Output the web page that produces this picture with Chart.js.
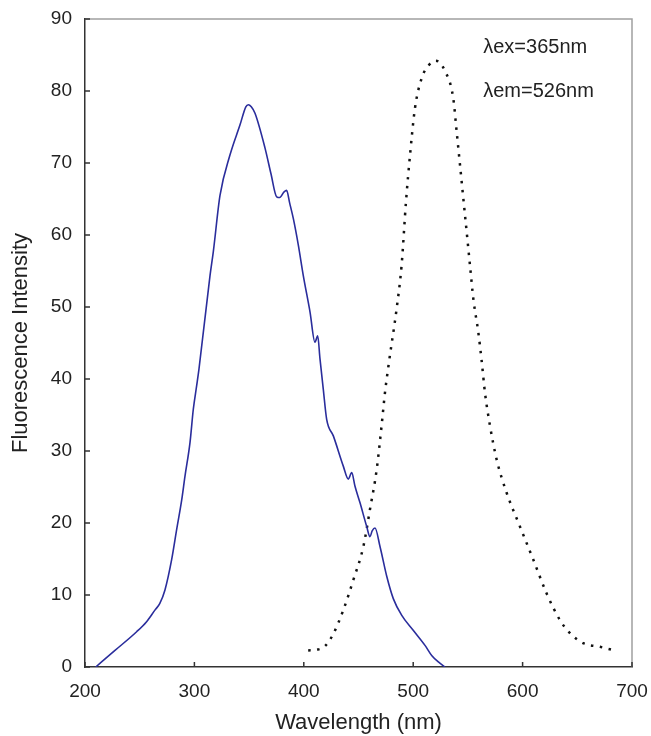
<!DOCTYPE html>
<html>
<head>
<meta charset="utf-8">
<script src="https://cdn.jsdelivr.net/npm/chart.js@4/dist/chart.umd.min.js"></script>
<style>
html,body{margin:0;padding:0;background:#fff;}
#wrap{width:651px;height:736px;position:relative;}
</style>
</head>
<body>
<div id="wrap"><canvas id="c" width="651" height="736"></canvas></div>
<script>
// Excitation spectrum (solid blue)
const exWavelength = [209.8,227.4,247.2,256.3,263.9,268.3,273.1,279.2,283.8,288.4,291.4,296,299,302.1,304.2,314.3,317.3,323.4,332.5,341.7,347,349.3,352,355.4,364.5,370,375.2,378,382,384.3,387,390.4,395,399.5,405.7,410.2,412.7,414.8,417.8,420.9,427,436.1,440.7,443.8,446.8,451.4,457.5,460.5,462.5,465.1,469.7,475.8,481.8,489.4,500,510.8,516.9,523,529];
const exIntensity  = [0,2.3,4.9,6.3,7.9,8.8,10.7,14.9,19.1,23.2,26.5,31.2,35.8,39.1,41.4,54.4,57.7,65.5,71.1,75.3,77.8,78.1,77.8,76.9,72.1,68.5,65.3,65.2,66.0,66.2,64.5,62.3,58.6,54.4,49.3,45.1,46.0,42.8,38.6,34.4,32.1,27.9,26.1,27.0,25.1,22.8,19.5,18.1,18.9,19.3,16.7,12.6,9.5,7.2,5.1,3.0,1.6,0.7,0];
// Emission spectrum (dotted black)
const emWavelength = [404,412,419.4,427,436.1,445.3,454.4,460.5,466.6,471.1,474.2,478.1,484.8,489.4,493.4,497.1,501.6,507.8,513.8,520.8,529,536.6,539.7,542.8,545.8,548.9,551.9,555,559.5,562.6,565.6,570.2,576.3,585.4,597.6,609.8,622,634.2,643.3,655.5,670.8,681.4];
const emIntensity  = [2.3,2.4,2.9,4.6,7.9,12.1,16.7,21.9,27.4,33.5,38.1,42.6,49.7,55.8,64.6,71.1,77.6,81.8,83.5,84.2,82.8,79,74.4,69.7,65.1,60.4,55.8,51.1,46.5,42.5,38.1,33.5,28.8,24.2,19.5,14.9,10.2,6.5,4.7,3.3,2.8,2.4];
// Axis ticks
const xTicks = [200,300,400,500,600,700];
const yTicks = [0,10,20,30,40,50,60,70,80,90];
// Annotations
const annotations = [
  {text:'\u03BBex=365nm', x:564, y:86.0},
  {text:'\u03BBem=526nm', x:564, y:80.0}
];

const FONT = "'Liberation Sans', Arial, Helvetica, sans-serif";

function zeroPad(s){ s.paddingTop = 0; s.paddingBottom = 0; s.paddingLeft = 0; s.paddingRight = 0; }

const frame = {
  id:'frame',
  afterDatasetsDraw(chart){
    const {ctx, chartArea:a, scales:{x, y}} = chart;
    ctx.save();
    ctx.strokeStyle = '#a0a0a0';
    ctx.lineWidth = 1.5;
    ctx.beginPath();
    ctx.moveTo(a.left, a.top); ctx.lineTo(a.right, a.top); ctx.lineTo(a.right, a.bottom);
    ctx.stroke();
    ctx.strokeStyle = '#333';
    ctx.lineWidth = 1.5;
    ctx.beginPath();
    x.ticks.forEach((t,i)=>{ const px = x.getPixelForTick(i); ctx.moveTo(px, a.bottom); ctx.lineTo(px, a.bottom-5); });
    y.ticks.forEach((t,i)=>{ const py = y.getPixelForTick(i); ctx.moveTo(a.left, py); ctx.lineTo(a.left+5, py); });
    ctx.stroke();
    ctx.fillStyle = '#222';
    ctx.font = '20px ' + FONT;
    ctx.textBaseline = 'middle';
    ctx.textAlign = 'left';
    annotations.forEach(an=>{ ctx.fillText(an.text, x.getPixelForValue(an.x), y.getPixelForValue(an.y)); });
    ctx.restore();
  }
};

new Chart(document.getElementById('c'), {
  type:'line',
  data:{
    datasets:[
      {label:'Excitation', data: exWavelength.map((v,i)=>({x:v, y:exIntensity[i]})),
       borderColor:'#2a2d9c', borderWidth:1.6, pointRadius:0, fill:false,
       cubicInterpolationMode:'monotone'},
      {label:'Emission', data: emWavelength.map((v,i)=>({x:v, y:emIntensity[i]})),
       borderColor:'#111', borderWidth:2.5, borderDash:[2.5,6.5], pointRadius:0, fill:false,
       cubicInterpolationMode:'monotone'}
    ]
  },
  options:{
    responsive:false, animation:false, devicePixelRatio:1,
    layout:{padding:{top:19, right:19, left:0, bottom:0}},
    plugins:{legend:{display:false}, tooltip:{enabled:false}},
    scales:{
      x:{type:'linear', min:200, max:700,
         afterBuildTicks(s){ s.ticks = xTicks.map(v=>({value:v})); },
         afterFit(s){ s.height = 69; zeroPad(s); },
         grid:{display:false, drawTicks:false},
         border:{display:true, color:'#333', width:1.5},
         ticks:{padding:13, color:'#222', font:{family:FONT, size:19}, maxRotation:0},
         title:{display:true, text:'Wavelength (nm)', color:'#222', font:{family:FONT, size:22}, padding:{top:0,bottom:0}}
      },
      y:{type:'linear', min:0, max:90,
         afterBuildTicks(s){ s.ticks = yTicks.map(v=>({value:v})); },
         afterFit(s){ s.width = 85; zeroPad(s); },
         grid:{display:false, drawTicks:false},
         border:{display:true, color:'#333', width:1.5},
         ticks:{padding:13, color:'#222', font:{family:FONT, size:19}},
         title:{display:true, text:'Fluorescence Intensity', color:'#222', font:{family:FONT, size:22}, padding:{top:8,bottom:0}}
      }
    }
  },
  plugins:[frame]
});
</script>
</body>
</html>
